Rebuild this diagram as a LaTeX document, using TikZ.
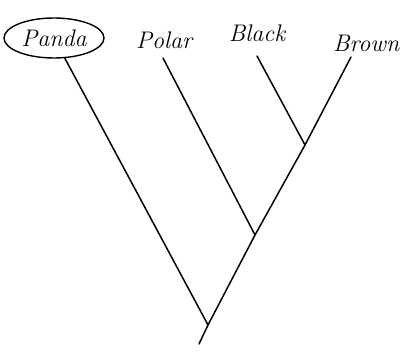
\documentclass[tikz,border=0pt]{standalone}
\usepackage{fontspec}
\usetikzlibrary{shapes.geometric}
\begin{document}
\begin{tikzpicture}[x=1pt,y=-1pt,
  branch/.style={line width=1.5pt,line cap=round},
  taxon/.style={font=\fontsize{24}{28}\selectfont\itshape,inner sep=0pt}]
\useasboundingbox[fill=white] (0,0) rectangle (409,352);
% taxa labels
\node[taxon,draw,ellipse,line width=1.4pt,minimum width=100pt,minimum height=40pt] (panda) at (54,38) {Panda};
\node[taxon] (polar) at (164,40) {Polar};
\node[taxon] (black) at (257,33) {Black};
\node[taxon,anchor=west] (brown) at (333,43) {Brown};
% line tops
\coordinate (polartop) at (163,58);
\coordinate (blacktop) at (257,56);
\coordinate (browntop) at (351,57);
% junctions
\coordinate (root) at (199,344);
\coordinate (j1) at (208,325);
\coordinate (j2) at (255,235);
\coordinate (j3) at (305,145);
% branches
\draw[branch] (root) -- (j1) -- (j2) -- (j3) -- (browntop);
\draw[branch] (panda) -- (j1);
\draw[branch] (polartop) -- (j2);
\draw[branch] (blacktop) -- (j3);
\end{tikzpicture}
\end{document}
